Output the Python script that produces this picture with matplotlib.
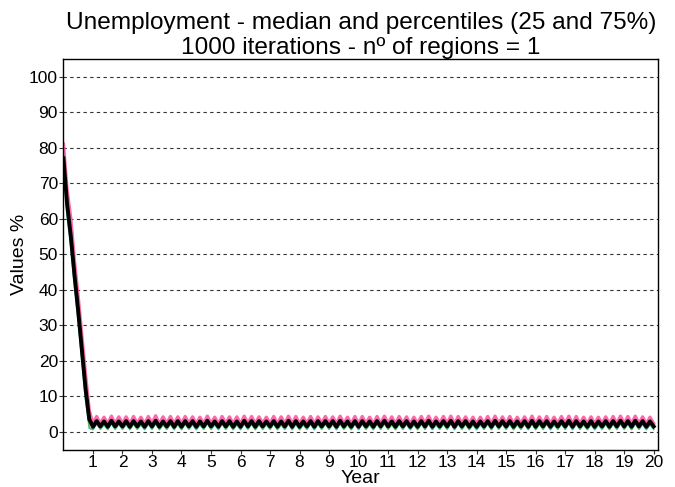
import matplotlib
matplotlib.use("Agg")
import matplotlib.pyplot as plt
import numpy as np

plt.rcParams['font.family'] = ['Liberation Sans', 'DejaVu Sans']

# time axis: 8 samples per year, 0 .. 20 years
years = np.arange(0, 161) / 8

# first year (fast drop)
median_head = [77, 64, 55, 44, 34, 23, 12, 3.5]
p75_head = [81, 68, 60, 48, 38, 27, 16, 6.0]
p25_head = [74, 61, 52, 41, 31, 20, 9, 1.0]

# years 1..20 : low / high zigzag, one row per year
median_tail = [
    1.4, 3.0, 1.5, 2.9, 1.4, 3.1, 1.5, 2.9,
    1.5, 3.0, 1.4, 3.0, 1.5, 2.9, 1.4, 3.0,
    1.5, 3.1, 1.4, 2.9, 1.5, 3.0, 1.4, 3.0,
    1.4, 3.0, 1.5, 3.0, 1.4, 2.9, 1.5, 3.1,
    1.5, 2.9, 1.4, 3.0, 1.5, 3.0, 1.4, 2.9,
    1.4, 3.1, 1.5, 3.0, 1.4, 3.0, 1.5, 2.9,
    1.5, 3.0, 1.4, 2.9, 1.5, 3.1, 1.4, 3.0,
    1.4, 2.9, 1.5, 3.0, 1.4, 3.0, 1.5, 3.0,
    1.5, 3.0, 1.4, 3.1, 1.5, 2.9, 1.4, 3.0,
    1.4, 3.0, 1.5, 2.9, 1.4, 3.0, 1.5, 3.1,
    1.5, 2.9, 1.4, 3.0, 1.5, 3.0, 1.4, 2.9,
    1.4, 3.0, 1.5, 3.1, 1.4, 2.9, 1.5, 3.0,
    1.5, 3.1, 1.4, 3.0, 1.5, 3.0, 1.4, 2.9,
    1.4, 2.9, 1.5, 3.0, 1.4, 3.1, 1.5, 3.0,
    1.5, 3.0, 1.4, 2.9, 1.5, 3.0, 1.4, 3.1,
    1.4, 3.0, 1.5, 3.0, 1.4, 2.9, 1.5, 3.0,
    1.5, 3.1, 1.4, 3.0, 1.5, 2.9, 1.4, 3.0,
    1.4, 2.9, 1.5, 3.0, 1.4, 3.0, 1.5, 3.1,
    1.5, 3.0, 1.4, 3.1, 1.5, 3.0, 1.4, 2.9,
    1.5,
]
p75_tail = [
    2.2, 4.3, 2.3, 4.1, 2.2, 4.4, 2.3, 4.2,
    2.3, 4.2, 2.2, 4.3, 2.3, 4.1, 2.2, 4.3,
    2.3, 4.5, 2.2, 4.2, 2.3, 4.3, 2.2, 4.2,
    2.2, 4.3, 2.3, 4.2, 2.2, 4.1, 2.3, 4.4,
    2.3, 4.1, 2.2, 4.3, 2.3, 4.2, 2.2, 4.2,
    2.2, 4.4, 2.3, 4.3, 2.2, 4.2, 2.3, 4.1,
    2.3, 4.3, 2.2, 4.2, 2.3, 4.4, 2.2, 4.3,
    2.2, 4.1, 2.3, 4.3, 2.2, 4.2, 2.3, 4.3,
    2.3, 4.2, 2.2, 4.4, 2.3, 4.1, 2.2, 4.3,
    2.2, 4.3, 2.3, 4.1, 2.2, 4.3, 2.3, 4.4,
    2.3, 4.2, 2.2, 4.3, 2.3, 4.2, 2.2, 4.1,
    2.2, 4.3, 2.3, 4.4, 2.2, 4.1, 2.3, 4.3,
    2.3, 4.4, 2.2, 4.3, 2.3, 4.2, 2.2, 4.1,
    2.2, 4.1, 2.3, 4.3, 2.2, 4.4, 2.3, 4.2,
    2.3, 4.3, 2.2, 4.1, 2.3, 4.2, 2.2, 4.4,
    2.2, 4.2, 2.3, 4.3, 2.2, 4.1, 2.3, 4.3,
    2.3, 4.4, 2.2, 4.3, 2.3, 4.1, 2.2, 4.2,
    2.2, 4.1, 2.3, 4.2, 2.2, 4.3, 2.3, 4.4,
    2.3, 4.3, 2.2, 4.4, 2.3, 4.2, 2.2, 4.1,
    2.3,
]
p25_tail = [
    0.6, 2.2, 0.7, 2.0, 0.6, 2.3, 0.7, 2.1,
    0.7, 2.1, 0.6, 2.2, 0.7, 2.0, 0.6, 2.2,
    0.7, 2.3, 0.6, 2.0, 0.7, 2.2, 0.6, 2.1,
    0.6, 2.2, 0.7, 2.1, 0.6, 2.0, 0.7, 2.3,
    0.7, 2.0, 0.6, 2.2, 0.7, 2.1, 0.6, 2.0,
    0.6, 2.3, 0.7, 2.2, 0.6, 2.1, 0.7, 2.0,
    0.7, 2.2, 0.6, 2.0, 0.7, 2.3, 0.6, 2.2,
    0.6, 2.0, 0.7, 2.2, 0.6, 2.1, 0.7, 2.2,
    0.7, 2.1, 0.6, 2.3, 0.7, 2.0, 0.6, 2.2,
    0.6, 2.2, 0.7, 2.0, 0.6, 2.2, 0.7, 2.3,
    0.7, 2.0, 0.6, 2.2, 0.7, 2.1, 0.6, 2.0,
    0.6, 2.2, 0.7, 2.3, 0.6, 2.0, 0.7, 2.2,
    0.7, 2.3, 0.6, 2.2, 0.7, 2.1, 0.6, 2.0,
    0.6, 2.0, 0.7, 2.2, 0.6, 2.3, 0.7, 2.1,
    0.7, 2.2, 0.6, 2.0, 0.7, 2.1, 0.6, 2.3,
    0.6, 2.1, 0.7, 2.2, 0.6, 2.0, 0.7, 2.2,
    0.7, 2.3, 0.6, 2.2, 0.7, 2.0, 0.6, 2.1,
    0.6, 2.0, 0.7, 2.1, 0.6, 2.2, 0.7, 2.3,
    0.7, 2.2, 0.6, 2.3, 0.7, 2.1, 0.6, 2.0,
    0.7,
]

median = median_head + median_tail
p75 = p75_head + p75_tail
p25 = p25_head + p25_tail

xticks = list(range(1, 21))
yticks = list(range(0, 101, 10))

fig = plt.figure(figsize=(6.75, 4.87), dpi=100)
ax = fig.add_axes([0.094, 0.077, 0.881, 0.802])

ax.fill_between(years, p25, p75, color='#F8A0C0', alpha=0.6, lw=0)
ax.plot(years, p75, color='#FF5C8A', lw=2.4, alpha=0.9)
ax.plot(years, p75, color='#F564E3', lw=1.0, alpha=0.6)
ax.plot(years, p25, color='#00BFC4', lw=1.2, alpha=0.8)
ax.plot(years, p25, color='#7CAE00', lw=0.8, alpha=0.6)
ax.plot(years, median, color='black', lw=2.8)

ax.set_xlim(0, 20.15)
ax.set_ylim(-5, 105)
ax.set_xticks(xticks)
ax.set_yticks(yticks)
ax.tick_params(labelsize=12.5, length=3, pad=1, color='#333333',
               labelcolor='black')
ax.yaxis.grid(True, linestyle=(0, (3, 3)), color='#333333', lw=0.8)
ax.set_axisbelow(True)
for s in ax.spines.values():
    s.set_color('black')
    s.set_linewidth(1.0)

ax.set_xlabel('Year', fontsize=14, labelpad=0)
ax.set_ylabel('Values %', fontsize=14, labelpad=1)
ax.set_title('Unemployment - median and percentiles (25 and 75%)\n'
             '1000 iterations - nº of regions = 1', fontsize=17.6, pad=1,
             linespacing=1.2)

fig.savefig('out.png', dpi=100)
